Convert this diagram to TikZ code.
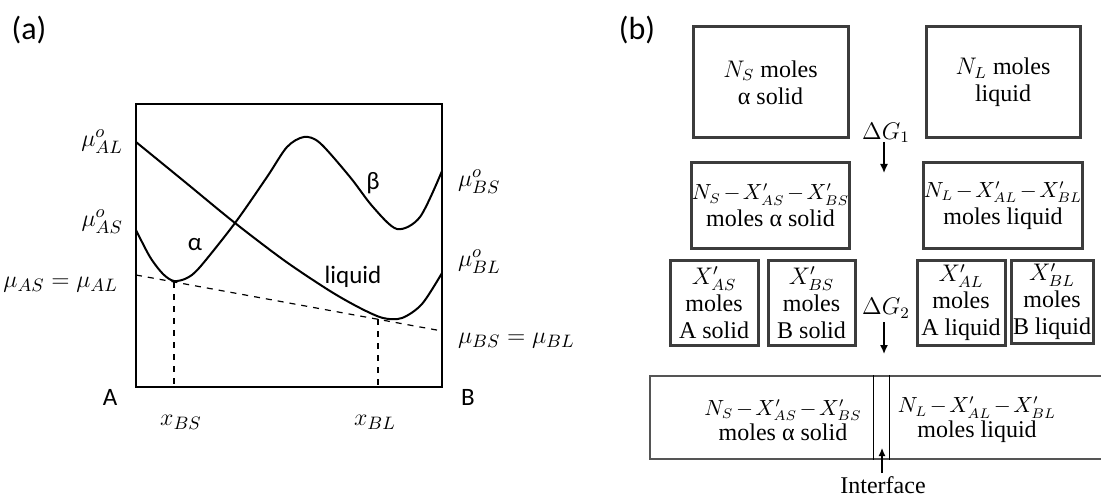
\documentclass[tikz,border=0pt]{standalone}
\usepackage{amsmath}
\usepackage{fontspec}
\setmainfont{Liberation Serif}
\newfontfamily\calfont{Carlito}
\usepackage{tikz}
\usetikzlibrary{arrows.meta,calc,positioning}
\definecolor{boxgray}{HTML}{3C3C3C}
\definecolor{slabgray}{HTML}{555555}
\newcommand{\molesum}[1]{{\fontsize{10.5}{12}\selectfont$\medmuskip=2mu #1$}}

\begin{document}
\begin{tikzpicture}[x=0.5pt,y=-0.5pt,
  sans/.style={font=\calfont\fontsize{12.5}{14}\selectfont},
  lbl/.style={font=\fontsize{13}{15}\selectfont},
  curve/.style={line width=1pt,line join=round},
  tie/.style={dashed,line width=0.6pt},
  molebox/.style={draw=boxgray,line width=1.5pt,inner sep=0pt,align=center,
    font=\fontsize{12}{13.5}\selectfont},
  slabtext/.style={inner sep=0pt,align=center,font=\fontsize{12}{12.5}\selectfont},
  step arrow/.style={-{Latex[length=4.5pt,width=4pt]},line width=0.7pt}]
  \useasboundingbox (0,0) rectangle (1101,497);
  \clip (0,0) rectangle (1101,497);
  % (a)
  \node[font=\calfont\fontsize{16}{18}\selectfont] (tagA) at (29,30) {(a)};
  \draw[line width=0.9pt] (136,104) rectangle (442,387);
  \draw[curve] plot[smooth] coordinates {(136,142) (185,182) (235,223) (285,261)
    (330,291) (360,308) (383,318) (402,318) (422,304) (442,273)};
  \draw[curve] plot[smooth] coordinates {(136,230) (150,257) (163,274) (174,281)
    (187,278) (200,267) (235,223) (267,177) (287,147) (304,137) (320,143)
    (350,177) (373,207) (397,229) (420,217) (442,171)};
  \draw[tie] (136,275) -- (442,331);
  \draw[tie] (174,282) -- (174,387);
  \draw[tie] (378,319) -- (378,387);
  \node[lbl,anchor=east] (muAL) at (130,142) {$\mu^o_{AL}$};
  \node[lbl,anchor=east] (muAS) at (130,222) {$\mu^o_{AS}$};
  \node[lbl,anchor=east] (eqA) at (125,285) {$\mu_{AS}=\mu_{AL}$};
  \node[lbl,anchor=west] (muBS) at (451,182) {$\mu^o_{BS}$};
  \node[lbl,anchor=west] (muBL) at (451,262) {$\mu^o_{BL}$};
  \node[lbl,anchor=west] (eqB) at (451,341) {$\mu_{BS}=\mu_{BL}$};
  \node[sans] (endA) at (110,397) {A};
  \node[sans] (endB) at (468,397) {B};
  \node[lbl] (xBS) at (181,422) {$x_{BS}$};
  \node[lbl] (xBL) at (375,422) {$x_{BL}$};
  \node[sans] (alpha) at (195,245) {α};
  \node[sans] (beta) at (373,183) {β};
  \node[sans] (liq) at (353,277) {liquid};
  % (b)
  \node[font=\calfont\fontsize{16}{18}\selectfont] (tagB) at (637,30) {(b)};
  \node[molebox,minimum width=77.5pt,minimum height=55.5pt] (solid) at (770.5,82.5) {$N_S$ moles\\α solid};
  \node[molebox,minimum width=77pt,minimum height=55.5pt] (melt) at (1003,82.5) {$N_L$ moles\\liquid};
  \node[molebox,minimum width=77.5pt,minimum height=42.5pt] (solidR) at (770.5,205.5) {\molesum{N_S-X'_{AS}-X'_{BS}}\\moles α solid};
  \node[molebox,minimum width=77pt,minimum height=42.5pt] (meltR) at (1003,205.5) {\molesum{N_L-X'_{AL}-X'_{BL}}\\moles liquid};
  \node[molebox,minimum width=44pt,minimum height=42.5pt] (AS) at (714,302.5) {$X'_{AS}$\\moles\\A solid};
  \node[molebox,minimum width=43.5pt,minimum height=42.5pt] (BS) at (811.5,302.5) {$X'_{BS}$\\moles\\B solid};
  \node[molebox,minimum width=44pt,minimum height=42.5pt] (AL) at (961,302.5) {$X'_{AL}$\\moles\\A liquid};
  \node[molebox,minimum width=41pt,minimum height=41.5pt] (BL) at (1052,301.5) {$X'_{BL}$\\moles\\B liquid};
  \node[draw=slabgray,line width=1pt,minimum width=227pt,minimum height=41.5pt,inner sep=0pt] (slab) at (877,417.5) {};
  \coordinate (ifL) at (873,0);
  \coordinate (ifR) at (889,0);
  \draw[line width=0.5pt] (slab.north -| ifL) -- (slab.south -| ifL);
  \draw[line width=0.5pt] (slab.north -| ifR) -- (slab.south -| ifR);
  \node[slabtext] (slabS) at (783,420) {\molesum{N_S-X'_{AS}-X'_{BS}}\\moles α solid};
  \node[slabtext] (slabL) at (977,420) {\molesum{N_L-X'_{AL}-X'_{BL}}\\moles liquid};
  \node[font=\fontsize{12}{13.5}\selectfont] (dG1) at (886,133) {$\Delta G_1$};
  \coordinate (g1end) at (884,173);
  \draw[step arrow] (884,142) -- (g1end);
  \node[font=\fontsize{12}{13.5}\selectfont] (dG2) at (886,308) {$\Delta G_2$};
  \coordinate (g2end) at (884,354);
  \draw[step arrow] (884,322) -- (g2end);
  \node[slabtext] (iface) at (883,485) {Interface};
  \coordinate (ifTip) at (882,448);
  \draw[-{Latex[length=4pt,width=3.5pt]},line width=0.6pt] (iface.north -| ifTip) ++(0,-3) -- (ifTip);
\end{tikzpicture}
\end{document}
